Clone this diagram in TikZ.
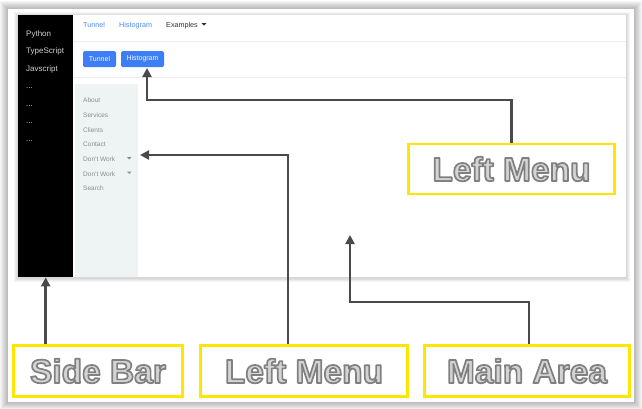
\documentclass[tikz,border=0pt]{standalone}
\usepackage{fontspec}
\setmainfont{Liberation Sans}
\usetikzlibrary{arrows.meta}
\definecolor{arrowc}{HTML}{4A4A4A}
\definecolor{yel}{HTML}{FFE500}
\definecolor{lblfill}{HTML}{D4D4D4}
\definecolor{btn}{HTML}{3D7EF6}
\definecolor{navblue}{HTML}{4B8BF4}
\definecolor{navdark}{HTML}{333333}
\definecolor{menubg}{HTML}{EEF3F3}
\definecolor{menutxt}{HTML}{8C8C8C}
\definecolor{sidetxt}{HTML}{CFCFCF}
\definecolor{sepc}{HTML}{EDEDED}
\newcommand{\outlined}[1]{\special{pdf:literal q 2 Tr 1.7 w 1 j 0.5 0.5 0.5 RG}#1\special{pdf:literal Q}}
\tikzset{
  arr/.style={draw=arrowc, line width=2.6pt, -{Triangle[length=9pt,width=9pt]}},
  lbl/.style={draw=yel, line width=2.8pt, minimum height=51pt, inner sep=0pt,
    font=\fontsize{33.5}{40}\selectfont\bfseries, text=lblfill},
  sidetext/.style={anchor=base west, inner sep=0pt, font=\fontsize{8}{9}\selectfont, text=sidetxt},
  navtext/.style={anchor=base west, inner sep=0pt, font=\fontsize{7.2}{8}\selectfont, text=navblue},
  menutext/.style={anchor=base west, inner sep=0pt, font=\fontsize{6.5}{7}\selectfont, text=menutxt},
  btnbox/.style={fill=btn, rounded corners=1.5pt, minimum height=16pt, inner sep=0pt,
    font=\fontsize{7}{8}\selectfont, text=white},
  sep/.style={draw=sepc, line width=1pt}
}
\begin{document}
\begin{tikzpicture}[x=1pt,y=-1pt]
\useasboundingbox (0,0) rectangle (642,408);
\fill[white] (0,0) rectangle (642,408);
% outer card shadow
\foreach \k in {8,7,...,1}
  \fill[black,opacity=0.035] ({8-\k},{9-\k}) rectangle ({634+\k},{402+\k});
\fill[white] (8,9) rectangle (634,402);
% inner screenshot shadow
\foreach \k in {4,3,2,1}
  \fill[black,opacity=0.04] ({18-\k},{15-\k+1}) rectangle ({626+\k},{277+\k+1});
\node[fill=white, anchor=north west, minimum width=608pt, minimum height=262pt, inner sep=0pt] (screen) at (18,15) {};
% sidebar
\node[fill=black, anchor=north west, minimum width=55pt, minimum height=262pt, inner sep=0pt] (side) at (18,15) {};
% separators
\draw[sep] (73,41) -- (626,41);
\draw[sep] (73,77) -- (626,77);
% left menu panel
\node[fill=menubg, anchor=north west, minimum width=63pt, minimum height=193pt, inner sep=0pt] (menu) at (75,84) {};
% sidebar items
\node[sidetext] (s1) at (26,36) {Python};
\node[sidetext] (s2) at (26,53.5) {TypeScript};
\node[sidetext] (s3) at (26,71) {Javscript};
\node[sidetext] (s4) at (26,88.5) {...};
\node[sidetext] (s5) at (26,106) {...};
\node[sidetext] (s6) at (26,123.5) {...};
\node[sidetext] (s7) at (26,141) {...};
% top nav
\node[navtext] (n1) at (83,27) {Tunnel};
\node[navtext] (n2) at (119,27) {Histogram};
\node[navtext, text=navdark] (n3) at (166,27) {Examples};
\fill[navdark] (201.5,23) -- (206.5,23) -- (204,25.6) -- cycle;
% buttons
\node[btnbox, minimum width=33pt] (b1) at (99.5,59) {Tunnel};
\node[btnbox, minimum width=43pt] (hb) at (142.5,59) {Histogram};
% menu items
\node[menutext] (m1) at (83,102.5) {About};
\node[menutext] (m2) at (83,117.5) {Services};
\node[menutext] (m3) at (83,132.5) {Clients};
\node[menutext] (m4) at (83,146.5) {Contact};
\node[menutext] (m5) at (83,161.5) {Don't Work};
\node[menutext] (m6) at (83,176.5) {Don't Work};
\node[menutext] (m7) at (83,190.5) {Search};
\fill[menutxt] (127,157) -- (131.5,157) -- (129.25,159.5) -- cycle;
\fill[menutxt] (127,171.5) -- (131.5,171.5) -- (129.25,174) -- cycle;
% labels
\node[lbl, minimum width=169pt] (sb) at (98,371) {\outlined{Side Bar}};
\node[lbl, minimum width=207pt] (blm) at (304,371) {\outlined{Left Menu}};
\node[lbl, minimum width=205pt] (bma) at (527,371) {\outlined{Main Area}};
\node[lbl, minimum width=206pt, minimum height=50pt] (tlm) at (511.5,169) {\outlined{Left Menu}};
% arrow targets
\coordinate (hbt) at (147,68);
\coordinate (hbend) at (147,100);
\coordinate (lmt) at (140,155);
\coordinate (mat) at (350,235);
% arrows
\draw[arr] (tlm.north) |- (hbend) -- (hbt);
\draw[arr] ([xshift=-16pt]blm.north) |- (lmt);
\draw[arr] ([xshift=2pt]bma.north) -- ++(0,-42) -| (mat);
\draw[arr] (sb.north -| side.south) -- (side.south);
\end{tikzpicture}
\end{document}
